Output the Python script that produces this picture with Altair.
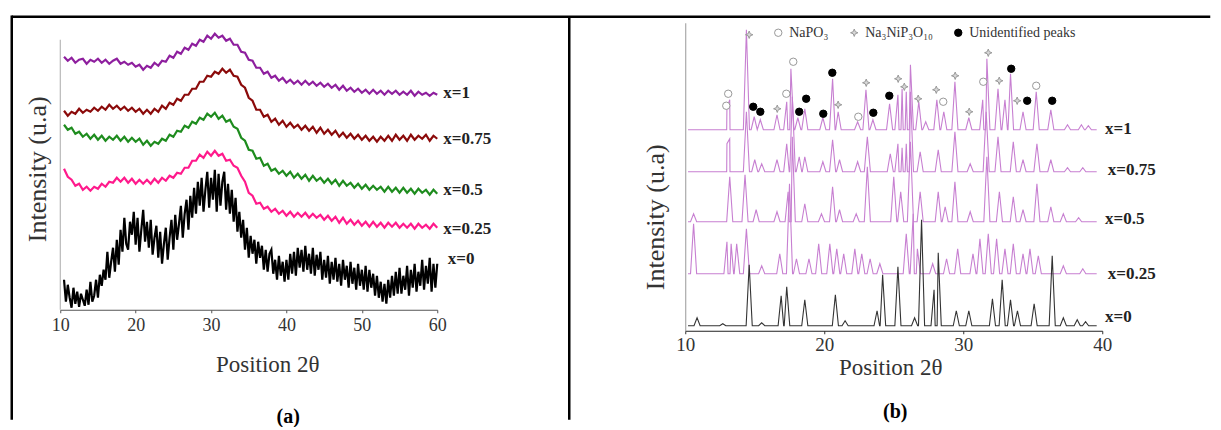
import numpy as np
import pandas as pd
import altair as alt

SERIF = "Liberation Serif"

# ---------------- Panel (a): amorphous glasses ----------------
A_SERIES = ["x=1", "x=0.75", "x=0.5", "x=0.25", "x=0"]
A_COLORS = ["#8E1F9E", "#8B0A0A", "#1E8C1E", "#FF1A8C", "#000000"]

a_x1 = [
    253, 249, 252, 247, 250, 251, 246, 250, 248, 251,
    247, 250, 246, 249, 251, 246, 248, 245, 247, 243,
    245, 240, 244, 242, 247, 244, 249, 248, 254, 252,
    258, 256, 262, 260, 266, 264, 270, 268, 274, 271,
    276, 272, 274, 269, 271, 265, 265, 258, 257, 250,
    249, 242, 242, 236, 238, 232, 234, 229, 232, 227,
    230, 226, 229, 225, 229, 225, 228, 224, 227, 223,
    226, 222, 225, 220, 224, 219, 222, 218, 221, 217,
    220, 216, 220, 216, 219, 215, 219, 216, 219, 215,
    218, 215, 219, 214, 218, 215, 217, 214, 217, 215,
]
a_x075 = [
    199, 194, 198, 196, 201, 197, 200, 198, 202, 199,
    203, 200, 205, 201, 204, 200, 203, 199, 202, 198,
    201, 196, 200, 196, 201, 198, 204, 201, 207, 205,
    211, 209, 215, 215, 221, 221, 228, 228, 234, 233,
    238, 236, 241, 237, 240, 234, 233, 225, 222, 212,
    209, 200, 200, 193, 195, 188, 191, 185, 189, 183,
    187, 182, 185, 180, 184, 179, 183, 177, 182, 176,
    180, 175, 179, 173, 177, 172, 176, 171, 175, 170,
    174, 169, 173, 168, 173, 169, 174, 169, 175, 170,
    174, 169, 175, 170, 174, 171, 175, 169, 174, 171,
]
a_x05 = [
    185, 180, 182, 176, 178, 173, 176, 171, 175, 170,
    174, 169, 173, 170, 174, 169, 173, 168, 172, 168,
    171, 165, 169, 164, 168, 166, 171, 169, 175, 173,
    179, 178, 184, 182, 188, 186, 192, 190, 196, 193,
    197, 191, 194, 188, 190, 183, 181, 172, 169, 160,
    159, 151, 152, 144, 146, 139, 141, 136, 139, 134,
    138, 132, 136, 131, 135, 129, 134, 129, 132, 127,
    131, 126, 130, 124, 129, 124, 127, 122, 126, 121,
    125, 120, 124, 120, 123, 118, 123, 118, 122, 117,
    122, 117, 121, 116, 121, 117, 120, 115, 120, 116,
]
a_x025 = [
    141, 133, 130, 124, 126, 120, 123, 119, 123, 121,
    126, 123, 128, 127, 132, 128, 132, 127, 131, 126,
    130, 126, 130, 126, 131, 127, 132, 129, 134, 132,
    137, 136, 142, 142, 149, 149, 155, 152, 158, 154,
    159, 154, 156, 149, 150, 144, 142, 134, 128, 117,
    114, 106, 107, 101, 103, 98, 101, 96, 99, 94,
    98, 93, 97, 93, 97, 92, 96, 92, 95, 90,
    94, 89, 93, 87, 92, 86, 90, 85, 89, 84,
    88, 83, 88, 83, 87, 82, 87, 83, 87, 82,
    86, 82, 86, 81, 86, 82, 85, 81, 86, 82,
]
a_x0 = [
    30, 8,
    25, 12, 2, 22,
    6, 18, 3, 16,
    10, 4, 20, 5,
    28, 8, 14, 30,
    12, 35, 24, 40,
    30, 58, 32, 48,
    62, 38, 70, 45,
    80, 58, 92, 66,
    60, 88, 75, 98,
    65, 92, 58, 80,
    100, 68, 88, 62,
    90, 55, 72, 84,
    52, 78, 46, 66,
    82, 50, 72, 90,
    60, 95, 70, 86,
    104, 72, 96, 110,
    80, 114, 92, 122,
    96, 128, 104, 132,
    98, 120, 138, 102,
    132, 110, 140, 98,
    136, 104, 128, 138,
    100, 126, 96, 120,
    88, 112, 78, 98,
    72, 90, 60, 82,
    52, 74, 56, 70,
    46, 68, 52, 64,
    40, 60, 38, 56,
    60, 36, 50, 30,
    54, 34, 48, 28,
    50, 30, 56, 36,
    58, 34, 62, 42,
    60, 38, 64, 40,
    56, 36, 62, 34,
    55, 40, 58, 30,
    50, 32, 54, 26,
    48, 30, 52, 28,
    46, 24, 50, 30,
    44, 22, 48, 26,
    42, 20, 46, 24,
    40, 20, 44, 18,
    40, 22, 36, 14,
    34, 12, 28, 8,
    26, 6, 30, 12,
    34, 14, 38, 16,
    42, 16, 34, 20,
    44, 14, 40, 22,
    46, 18, 38, 24,
    50, 20, 44, 26,
    52, 18, 46, 22,
    46,
]
A_LABEL_POS = [60.8, 60.8, 60.8, 60.8, 61.4]
A_LABEL_I = [217, 171, 120, 81, 51]

# ---------------- Panel (b): crystallised samples ----------------
B_SERIES = ["x=1", "x=0.75", "x=0.5", "x=0.25", "x=0"]
B_COLORS = ["#C77FD1", "#C77FD1", "#C77FD1", "#C77FD1", "#333333"]
B_BASE = [201, 159, 109, 57, 5]
B_START, B_END = 10.2, 39.6
b_peaks = {
    "x=1": [(13.0, 22), (13.2, 30), (14.4, 100), (14.96, 13), (15.4, 10), (16.6, 15),
            (17.3, 28), (17.6, 61), (18.1, 12), (18.6, 21), (19.9, 12), (20.6, 51),
            (21.0, 18), (22.4, 8), (23.0, 40), (23.5, 10), (24.7, 26), (25.3, 35),
            (25.6, 41), (25.9, 38), (26.2, 65), (26.8, 28), (27.3, 8), (28.1, 30),
            (28.6, 18), (29.4, 48), (30.4, 12), (31.4, 30), (31.7, 71), (32.5, 41),
            (33.0, 30), (33.4, 56), (34.3, 18), (35.25, 38), (36.3, 20), (37.5, 5),
            (38.5, 5), (39.0, 4)],
    "x=0.75": [(13.0, 28), (13.2, 33), (14.4, 60), (15.0, 12), (15.5, 8), (16.6, 12),
               (17.3, 28), (17.7, 75), (18.2, 15), (18.6, 15), (19.9, 10), (20.6, 32),
               (21.1, 12), (22.4, 10), (23.1, 35), (24.75, 18), (25.3, 28), (25.6, 24),
               (25.9, 28), (26.2, 80), (26.9, 20), (28.2, 22), (29.4, 40), (30.5, 8),
               (31.65, 60), (32.5, 35), (33.6, 30), (34.3, 12), (35.3, 28), (36.3, 12),
               (37.5, 4), (38.6, 4)],
    "x=0.5": [(10.6, 8), (13.2, 45), (14.3, 47), (15.1, 12), (16.6, 10), (17.4, 30),
              (17.7, 85), (18.6, 18), (19.8, 8), (20.6, 35), (21.1, 12), (22.3, 8),
              (23.1, 55), (25.0, 45), (25.5, 30), (26.2, 80), (26.9, 30), (28.2, 30),
              (28.7, 15), (29.4, 40), (30.5, 10), (31.7, 65), (32.6, 30), (33.6, 25),
              (34.3, 12), (35.3, 38), (36.3, 15), (37.2, 8), (38.3, 4)],
    "x=0.25": [(10.6, 50), (13.0, 32), (13.3, 30), (13.7, 30), (14.4, 45), (15.5, 8),
               (16.8, 20), (17.5, 90), (18.0, 15), (18.9, 15), (19.6, 30), (20.4, 30),
               (20.9, 25), (21.4, 20), (22.2, 25), (22.7, 20), (23.3, 15), (24.0, 10),
               (25.9, 40), (26.4, 60), (26.7, 25), (27.8, 10), (28.8, 15), (29.6, 25),
               (30.7, 20), (31.2, 35), (31.8, 40), (32.4, 35), (33.0, 25), (33.6, 30),
               (34.3, 20), (34.8, 25), (35.4, 18), (37.2, 8), (38.6, 5)],
    "x=0": [(10.85, 8), (12.7, 2), (14.6, 61), (15.5, 3), (16.9, 30), (17.3, 39),
            (18.6, 26), (20.8, 31), (21.5, 5), (23.8, 15), (24.2, 51), (25.3, 59),
            (26.5, 8), (27.0, 106), (27.9, 36), (28.2, 73), (29.5, 15), (30.4, 15),
            (32.1, 27), (32.8, 46), (33.4, 26), (33.9, 15), (35.1, 22), (36.4, 70),
            (37.2, 8), (38.2, 6), (38.8, 4)],
}
B_LABEL_POS = [40.2, 40.4, 40.2, 40.4, 40.2]
B_LABEL_I = [202, 161, 112, 57, 14]

PHASES = ["NaPO₃", "Na₃NiP₃O₁₀", "Unidentified peaks"]
napo3_t = [12.95, 13.09, 17.27, 17.77, 22.45, 28.56, 31.44, 35.25]
napo3_i = [225, 237, 237, 269, 214, 229, 249, 245]
nanip_t = [14.6, 16.62, 21.0, 23.02, 25.32, 25.76, 26.76, 28.06, 29.42, 30.43, 31.8, 32.59, 33.88]
nanip_i = [296, 222, 226, 248, 252, 244, 232, 241, 255, 219, 278, 250, 230]
unid_t = [14.89, 15.4, 18.2, 18.7, 19.93, 20.58, 23.53, 24.68, 33.45, 34.6, 36.4]
unid_i = [224, 219, 219, 232, 217, 258, 218, 235, 262, 230, 230]

STAR = "M0,-1L0.28,-0.28L1,0L0.28,0.28L0,1L-0.28,0.28L-1,0L-0.28,-0.28Z"

# ---------------- build tables ----------------
rows = []
for name, vals in zip(A_SERIES[:4], [a_x1, a_x075, a_x05, a_x025]):
    xs = np.arange(10.5, 60.001, 0.5)[: len(vals)]
    rows += [{"series": name, "theta": float(t), "I": v, "o": k} for k, (t, v) in enumerate(zip(xs, vals))]
xs0 = np.arange(10.5, 60.001, 0.25)[: len(a_x0)]
rows += [{"series": "x=0", "theta": float(t), "I": v, "o": k} for k, (t, v) in enumerate(zip(xs0, a_x0))]
dfA = pd.DataFrame(rows)
labA = pd.DataFrame({"series": A_SERIES, "theta": A_LABEL_POS, "I": A_LABEL_I})

rowsB = []
HW = 0.22
for name, base in zip(B_SERIES, B_BASE):
    pts = [(B_START, base), (B_END, base)]
    for p, h in b_peaks[name]:
        pts += [(p - HW, base), (p, base + h), (p + HW, base)]
    pts.sort()
    rowsB += [{"series": name, "theta": t, "I": v, "o": k} for k, (t, v) in enumerate(pts)]
dfB = pd.DataFrame(rowsB)
labB = pd.DataFrame({"series": B_SERIES, "theta": B_LABEL_POS, "I": B_LABEL_I})

marks = pd.DataFrame(
    [{"phase": PHASES[0], "theta": t, "I": i} for t, i in zip(napo3_t, napo3_i)]
    + [{"phase": PHASES[1], "theta": t, "I": i} for t, i in zip(nanip_t, nanip_i)]
    + [{"phase": PHASES[2], "theta": t, "I": i} for t, i in zip(unid_t, unid_i)]
)
one = pd.DataFrame({"k": [0]})

# ---------------- panel (a) ----------------
WA, HA = 377, 287
xA = alt.X("theta:Q", scale=alt.Scale(domain=[10, 60], nice=False, zero=False),
           axis=alt.Axis(values=[10, 15, 20, 25, 30, 35, 40, 45, 50, 55, 60],
                         labelExpr="datum.value % 10 === 0 ? datum.label : ''",
                         labelFlush=False, labelOverlap=False,
                         title="Position 2θ", titleX=207, titleY=55, titleAlign="center",
                         titleBaseline="middle", titleFont=SERIF, titleFontSize=23,
                         titleFontWeight="normal", titleColor="#333",
                         labelFont=SERIF, labelFontSize=18, labelColor="#333", labelPadding=4,
                         tickSize=3, tickColor="#555", domainColor="#555", grid=False))
yA = alt.Y("I:Q", scale=alt.Scale(domain=[0, HA], nice=False, zero=False),
           axis=alt.Axis(title="Intensity (u.a)", labels=False, ticks=False, domain=False,
                         grid=False, titleX=-23, titleY=146, titleAlign="center",
                         titleBaseline="middle", titleFont=SERIF, titleFontSize=26,
                         titleFontWeight="normal", titleColor="#333"))

linesA = alt.Chart(dfA).mark_line().encode(
    x=xA, y=yA, order="o:Q",
    color=alt.Color("series:N", scale=alt.Scale(domain=A_SERIES, range=A_COLORS), legend=None),
    strokeWidth=alt.StrokeWidth("series:N", scale=alt.Scale(domain=A_SERIES, range=[2.2, 2.2, 2.2, 2.2, 1.1]), legend=None),
)
yaxisA = alt.Chart(one).mark_rule(color="#aaa", strokeWidth=1).encode(
    x=alt.datum(10), y=alt.datum(0), y2=alt.datum(270))
textA = alt.Chart(labA).mark_text(align="left", baseline="middle", font=SERIF,
                                  fontSize=17, fontWeight="bold", color="#222").encode(
    x="theta:Q", y="I:Q", text="series:N")
borders = [
    alt.Chart(one).mark_rule(color="black", strokeWidth=2.5).encode(
        x=alt.value(-48.5), x2=alt.value(1150), y=alt.value(-6)),
    alt.Chart(one).mark_rule(color="black", strokeWidth=2.5).encode(
        x=alt.value(-48.5), y=alt.value(-7.25), y2=alt.value(397)),
    alt.Chart(one).mark_rule(color="black", strokeWidth=2.5).encode(
        x=alt.value(509), y=alt.value(-6), y2=alt.value(397)),
]
capA = alt.Chart(one).mark_text(font=SERIF, fontSize=20, fontWeight="bold", color="black").encode(
    x=alt.value(228), y=alt.value(394), text=alt.value("(a)"))

panel_a = alt.layer(yaxisA, linesA, textA, capA, *borders).properties(width=WA, height=HA)

# ---------------- panel (b) ----------------
WB, HB = 417, 308
xB = alt.X("theta:Q", scale=alt.Scale(domain=[10, 40], nice=False, zero=False),
           axis=alt.Axis(values=[10, 20, 30, 40], labelFlush=False, labelOverlap=False,
                         title="Position 2θ", titleX=205, titleY=37,
                         titleAlign="center", titleBaseline="middle", titleFont=SERIF,
                         titleFontSize=23, titleFontWeight="normal", titleColor="#333",
                         labelFont=SERIF, labelFontSize=19, labelColor="#333", labelPadding=2,
                         tickSize=3, tickColor="#333", domainColor="#222", grid=False))
yB = alt.Y("I:Q", scale=alt.Scale(domain=[0, HB], nice=False, zero=False),
           axis=alt.Axis(title="Intensity (u.a)", labels=False, ticks=False, domainColor="#999",
                         grid=False, titleX=-30, titleY=194, titleAlign="center",
                         titleBaseline="middle", titleFont=SERIF, titleFontSize=26,
                         titleFontWeight="normal", titleColor="#333"))

linesB = alt.Chart(dfB).mark_line().encode(
    x=xB, y=yB, order="o:Q",
    color=alt.Color("series:N", scale=alt.Scale(domain=B_SERIES, range=B_COLORS), legend=None),
    strokeWidth=alt.StrokeWidth("series:N", scale=alt.Scale(domain=B_SERIES, range=[1.1, 1.1, 1.1, 1.1, 1.4]), legend=None),
)
leg = alt.Legend(orient="none", legendX=86, legendY=3, direction="horizontal", title=None,
                 labelFont=SERIF, labelFontSize=14, labelColor="#333", labelLimit=300,
                 symbolSize=55, symbolStrokeWidth=1, columnPadding=18, labelOffset=4,
                 padding=0, offset=0)
pointsB = alt.Chart(marks).mark_point(size=55, strokeWidth=1, opacity=1, filled=False).encode(
    x="theta:Q", y="I:Q",
    shape=alt.Shape("phase:N", scale=alt.Scale(domain=PHASES, range=["circle", STAR, "circle"]), legend=leg),
    fill=alt.Fill("phase:N", scale=alt.Scale(domain=PHASES, range=["white", "#d8d8d8", "black"]), legend=leg),
    stroke=alt.Stroke("phase:N", scale=alt.Scale(domain=PHASES, range=["#999", "#999", "black"]), legend=leg),
)
textB = alt.Chart(labB).mark_text(align="left", baseline="middle", font=SERIF,
                                  fontSize=17, fontWeight="bold", color="#222").encode(
    x="theta:Q", y="I:Q", text="series:N")
capB = alt.Chart(one).mark_text(font=SERIF, fontSize=20, fontWeight="bold", color="black").encode(
    x=alt.value(210), y=alt.value(389), text=alt.value("(b)"))

panel_b = alt.layer(linesB, pointsB, textB, capB).properties(width=WB, height=HB)

chart = (
    alt.hconcat(panel_a, panel_b, spacing=248, bounds="flush")
    .resolve_scale(color="independent", shape="independent", fill="independent",
                   stroke="independent", strokeWidth="independent")
    .resolve_legend(shape="independent", fill="independent", stroke="independent")
    .properties(padding={"left": 2.25, "top": 5.75, "right": 0, "bottom": 0}, background="white")
    .configure_view(stroke=None)
)

chart.save("out.html", embed_options={"renderer": "svg", "actions": False})
